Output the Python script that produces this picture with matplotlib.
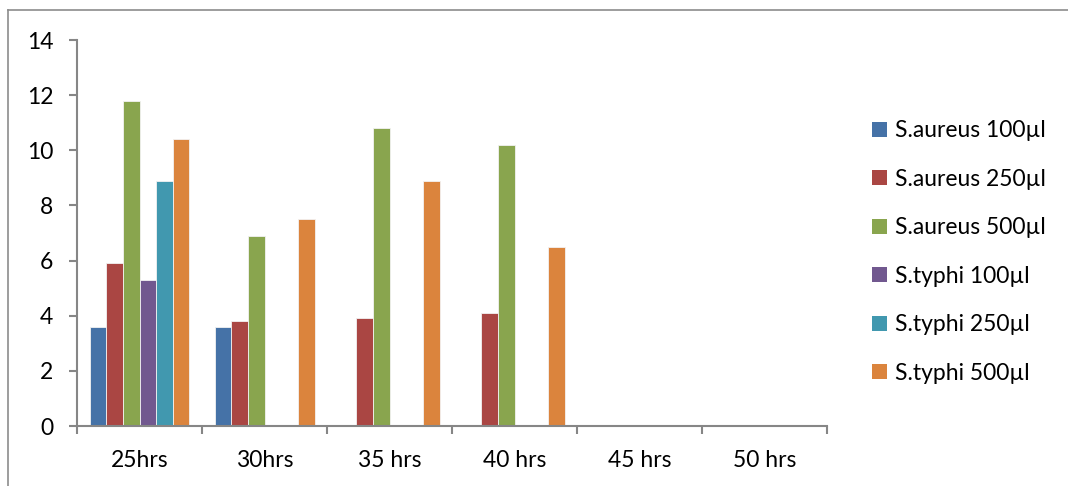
import numpy as np
import matplotlib.pyplot as plt
from matplotlib.lines import Line2D
from matplotlib.patches import Patch

plt.rcParams['font.family'] = ['Lato', 'DejaVu Sans']

categories = ["25hrs", "30hrs", "35 hrs", "40 hrs", "45 hrs", "50 hrs"]
series_names = ["S.aureus 100µl", "S.aureus 250µl", "S.aureus 500µl",
                "S.typhi 100µl", "S.typhi 250µl", "S.typhi 500µl"]
saureus_100 = [3.6, 3.6, 0, 0, 0, 0]
saureus_250 = [5.9, 3.8, 3.9, 4.1, 0, 0]
saureus_500 = [11.8, 6.9, 10.8, 10.2, 0, 0]
styphi_100 = [5.3, 0, 0, 0, 0, 0]
styphi_250 = [8.9, 0, 0, 0, 0, 0]
styphi_500 = [10.4, 7.5, 8.9, 6.5, 0, 0]
series = [saureus_100, saureus_250, saureus_500, styphi_100, styphi_250, styphi_500]
colors = ["#4572A7", "#AA4643", "#89A54E", "#71588F", "#4198AF", "#DB843D"]

fig = plt.figure(figsize=(10.68, 4.86), dpi=100)
ax = fig.add_axes([77 / 1068, 1 - 426 / 486, 750 / 1068, 386 / 486])

x = np.arange(len(categories))
n = len(series)
bar_w = 0.8 / n
for i, (vals, c) in enumerate(zip(series, colors)):
    ax.bar(x - 0.4 + bar_w * (i + 0.5), vals, width=bar_w, color=c,
           edgecolor="#f2f2f2", linewidth=0.6, label=series_names[i])

axis_gray = "#868686"
ax.set_xlim(-0.5, len(categories) - 0.5)
ax.set_ylim(0, 14)
ax.set_yticks(range(0, 15, 2))
ax.set_xticks(x)
ax.set_xticklabels(categories)
ax.set_xticks(np.arange(-0.5, len(categories)), minor=True)

for s in ["top", "right"]:
    ax.spines[s].set_visible(False)
for s in ["left", "bottom"]:
    ax.spines[s].set_color(axis_gray)
    ax.spines[s].set_linewidth(1.5)

ax.tick_params(axis="y", direction="out", length=6, width=1.5, color=axis_gray,
               labelsize=16.5, pad=11)
ax.tick_params(axis="x", which="major", length=0, labelsize=16.5, pad=17)
ax.tick_params(axis="x", which="minor", direction="out", length=6, width=1.5,
               color=axis_gray)

handles = [Patch(facecolor=c, edgecolor="none") for c in colors]
fig.legend(handles, series_names, loc="center left",
           bbox_to_anchor=(851 / 1068, 1 - 252 / 486), frameon=False,
           fontsize=16.5, handlelength=0.65, handleheight=0.65,
           handletextpad=0.35, labelspacing=1.2)

# outer chart frame (left and top edges visible)
fig.add_artist(Line2D([8 / 1068, 8 / 1068], [0, 1 - 10 / 486],
                      transform=fig.transFigure, color="#8c8c8c", lw=1.2))
fig.add_artist(Line2D([8 / 1068, 1], [1 - 10 / 486, 1 - 10 / 486],
                      transform=fig.transFigure, color="#8c8c8c", lw=1.2))

fig.savefig("out.png", dpi=100)
